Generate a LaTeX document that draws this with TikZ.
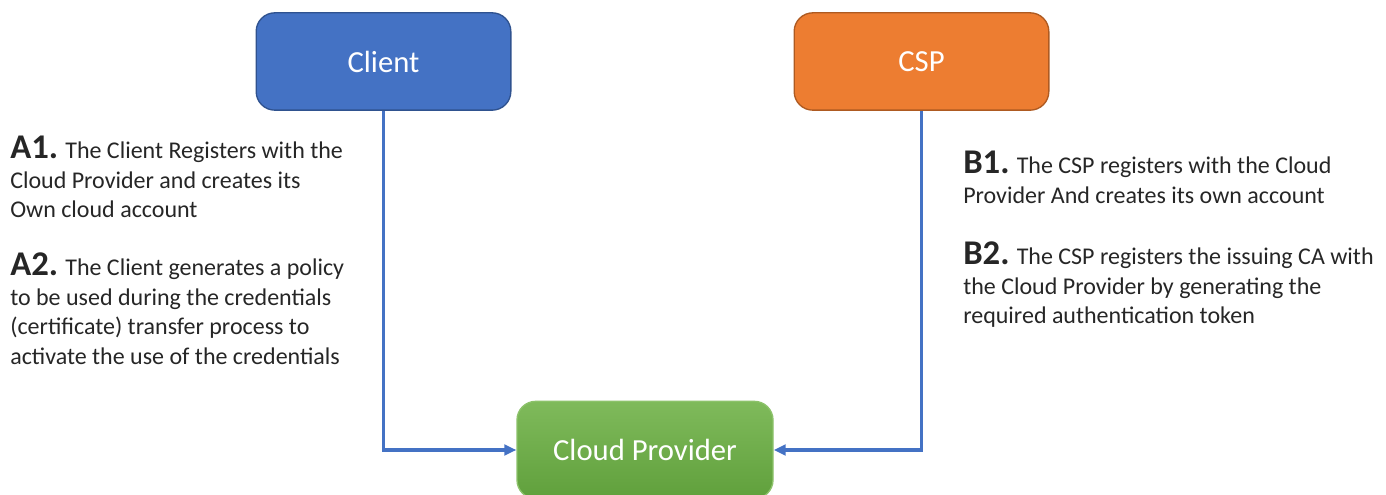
\documentclass[tikz,border=0pt]{standalone}
\usepackage{fontspec}
\setmainfont{Carlito}
\usepackage{tikz}
\usetikzlibrary{arrows.meta}

\definecolor{clientblue}{HTML}{4472C4}
\definecolor{clientedge}{HTML}{2F528F}
\definecolor{cspfill}{HTML}{ED7D31}
\definecolor{cspedge}{HTML}{AE5A21}
\definecolor{cloudtop}{HTML}{7FBA5B}
\definecolor{cloudbot}{HTML}{60A03C}
\definecolor{cloudedge}{HTML}{8CC26A}
\definecolor{bodytext}{HTML}{262626}

\tikzset{
  party/.style={draw, line width=1pt, rounded corners=14pt, minimum width=191pt,
    minimum height=73pt, text=white, font=\fontsize{23}{28}\selectfont},
  flow/.style={draw=clientblue, line width=2.3pt, -{Triangle[length=9pt,width=8pt]}},
  steptext/.style={anchor=north west, inner sep=0pt, align=left, text=bodytext,
    font=\fontsize{18}{22.1}\selectfont}
}
\newcommand{\steptag}[1]{{\fontsize{26}{22.1}\selectfont\bfseries #1}}

\begin{document}
\begin{tikzpicture}[x=0.75pt, y=-0.75pt]
\useasboundingbox (0,0) rectangle (1386,495);

% Parties
\node[party, fill=clientblue, draw=clientedge] (client) at (383.5,61.5) {Client};
\node[party, fill=cspfill, draw=cspedge] (csp) at (921.5,61.5) {CSP};
\node[party, top color=cloudtop, bottom color=cloudbot, draw=cloudedge,
  minimum width=192pt] (cloud) at (645,450) {Cloud Provider};

% Registration flows
\draw[flow] (client) |- (cloud);
\draw[flow] (csp) |- (cloud);

% Client steps
\node[steptext] (stepA1) at (10,136) {\steptag{A1.} The Client Registers with the\\
  Cloud Provider and creates its\\ Own cloud account};
\node[steptext] (stepA2) at (10,253) {\steptag{A2.} The Client generates a policy\\
  to be used during the credentials\\ (certificate) transfer process to\\
  activate the use of the credentials};

% CSP steps
\node[steptext] (stepB1) at (963,151) {\steptag{B1.} The CSP registers with the Cloud\\
  Provider And creates its own account};
\node[steptext] (stepB2) at (963,242) {\steptag{B2.} The CSP registers the issuing CA with\\
  the Cloud Provider by generating the\\ required authentication token};

\end{tikzpicture}
\end{document}
